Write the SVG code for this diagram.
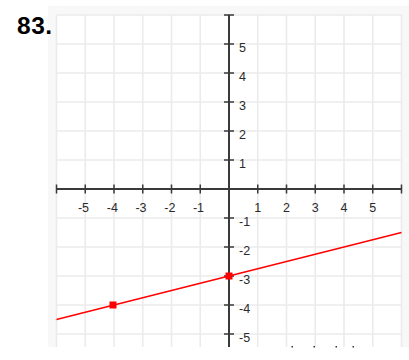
<svg xmlns="http://www.w3.org/2000/svg" width="409" height="360" viewBox="0 0 409 360">
<style>
.grid{stroke:#ebebeb;stroke-width:1.6;fill:none}
.axis{stroke:#3a3a3a;stroke-width:2;fill:none}
.tick{stroke:#3a3a3a;stroke-width:1.5;fill:none}
.lbl{font-family:"Liberation Sans",Arial,sans-serif;font-size:12.5px;fill:#2a2a2a}
.xl{text-anchor:middle}
.pt{fill:#ff0000}
</style>
<rect x="0" y="0" width="409" height="360" fill="#ffffff"/>
<g id="frame">
<rect x="48" y="6" width="361" height="341" fill="#f8f8f8"/>
<rect x="56.5" y="15" width="345" height="332" fill="#ffffff"/>
</g>
<g id="grid" class="grid">
<path d="M56.5 15V347M85.25 15V347M114 15V347M142.75 15V347M171.5 15V347M200.25 15V347M257.75 15V347M286.5 15V347M315.25 15V347M344 15V347M372.75 15V347M401.5 15V347"/>
<path d="M56.5 15H401.5M56.5 44H401.5M56.5 73H401.5M56.5 102H401.5M56.5 131H401.5M56.5 160H401.5M56.5 218H401.5M56.5 247H401.5M56.5 276H401.5M56.5 305H401.5M56.5 334H401.5"/>
</g>
<g id="axes">
<path class="axis" d="M56.5 189H401.5M229 15V347"/>
<path class="tick" d="M56.5 184.5V193.5M85.25 184.5V193.5M114 184.5V193.5M142.75 184.5V193.5M171.5 184.5V193.5M200.25 184.5V193.5M257.75 184.5V193.5M286.5 184.5V193.5M315.25 184.5V193.5M344 184.5V193.5M372.75 184.5V193.5M401.5 184.5V193.5"/>
<path class="tick" d="M224 15H234M224 44H234M224 73H234M224 102H234M224 131H234M224 160H234M224 218H234M224 247H234M224 276H234M224 305H234M224 334H234"/>
</g>
<g id="xlabels" class="lbl xl">
<text x="83.5" y="212">-5</text>
<text x="112.3" y="212">-4</text>
<text x="141" y="212">-3</text>
<text x="169.8" y="212">-2</text>
<text x="198.5" y="212">-1</text>
<text x="257.75" y="212">1</text>
<text x="286.5" y="212">2</text>
<text x="315.25" y="212">3</text>
<text x="344" y="212">4</text>
<text x="372.75" y="212">5</text>
</g>
<g id="ylabels" class="lbl">
<text x="239" y="51.5">5</text>
<text x="239" y="80.5">4</text>
<text x="239" y="109.5">3</text>
<text x="239" y="138.5">2</text>
<text x="239" y="167.5">1</text>
<text x="239" y="225.5">-1</text>
<text x="239" y="254.5">-2</text>
<text x="239" y="283.5">-3</text>
<text x="239" y="312.5">-4</text>
<text x="239" y="341.5">-5</text>
</g>
<g id="line">
<path d="M56.5 319.5L401.5 232.5" stroke="#ff0000" stroke-width="1.5" fill="none"/>
</g>
<g id="points">
<rect class="pt" x="109.5" y="301.5" width="7" height="7"/>
<rect class="pt" x="225.5" y="272.5" width="7" height="7"/>
</g>
<g id="marks" fill="#333">
<rect x="291.5" y="346" width="1.5" height="1.5"/>
<rect x="313.5" y="346" width="1.5" height="1.5"/>
<rect x="335.5" y="346" width="1.5" height="1.5"/>
<rect x="352.5" y="346" width="1.5" height="1.5"/>
</g>
<text x="17" y="34" font-family="'Liberation Sans',Arial,sans-serif" font-weight="bold" font-size="24.5" fill="#000" letter-spacing="0.5">83.</text>
</svg>
